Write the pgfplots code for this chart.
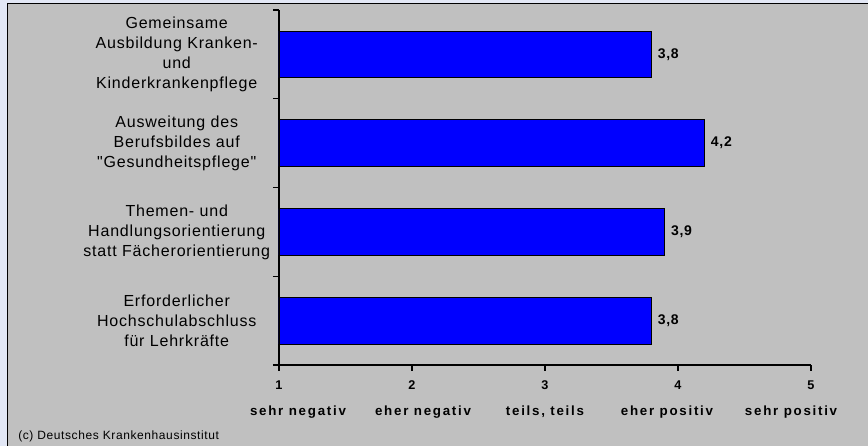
\documentclass[border=0pt]{standalone}
\usepackage{fontspec}
\setmainfont{Liberation Sans}[LetterSpace=5, Ligatures=TeXOff]
\newfontfamily\widebf{Liberation Sans}[LetterSpace=13]
\usepackage{pgfplots}
\pgfplotsset{compat=1.18}
\definecolor{panelgray}{RGB}{192,192,192}
\definecolor{outerbg}{RGB}{226,231,245}
\definecolor{barblue}{RGB}{0,0,255}
\pgfplotsset{backdrop/.style={scale only axis, axis lines=none, ticks=none,
  xmin=0, xmax=1, ymin=0, ymax=1, anchor=south west}}

\begin{document}
\hyphenpenalty=10000
\begin{tikzpicture}
\useasboundingbox (-209.25pt,-60.75pt) rectangle (441.75pt,273.75pt);
% page backdrop and grey panel
\begin{axis}[backdrop, at={(-209.25pt,-60.75pt)}, width=651pt, height=334.5pt,
  axis background/.style={fill=outerbg}]
\addplot[draw=none] coordinates {(0,0)};
\end{axis}
\begin{axis}[backdrop, at={(-203.25pt,-60.75pt)}, width=645pt, height=331.5pt,
  axis background/.style={fill=panelgray}]
\addplot[draw=none] coordinates {(0,0)};
\end{axis}
\draw[black, line width=0.75pt] (-203.25pt,-60.75pt) -- (-203.25pt,270.75pt) -- (441.75pt,270.75pt);
\begin{axis}[
  at={(0,0)}, anchor=south west,
  scale only axis, width=399pt, height=266.25pt,
  axis background/.style={fill=panelgray},
  xbar, bar width=35pt,
  xmin=1, xmax=5, ymin=0, ymax=4,
  axis lines=left, axis line style={-, line width=1pt},
  clip mode=individual,
  tick align=outside, major tick length=4.5pt,
  tick style={black, line width=1pt},
  xtick={1,2,3,4,5}, xticklabels={1,2,3,4,5},
  xticklabel style={font=\widebf\bfseries\fontsize{9.5}{11}\selectfont, anchor=base, inner sep=0pt, yshift=-14pt},
  ytick={0,1,2,3,4}, yticklabels={},
  extra y ticks={0.5,1.5,2.5,3.5},
  extra y tick labels={
    {Erforderlicher\\Hochschulabschluss\\für Lehrkräfte},
    {Themen- und\\Handlungsorientierung\\statt Fächerorientierung},
    {Ausweitung des\\Berufsbildes auf\\"Gesundheitspflege"},
    {Gemeinsame\\Ausbildung Kranken-\\und\\Kinderkrankenpflege}},
  extra y tick style={major tick length=0pt,
    yticklabel style={anchor=east, inner sep=0pt, xshift=-1.5pt, text width=150pt, align=center,
      font=\fontsize{12}{15}\selectfont}},
  point meta=x,
  nodes near coords={\pgfmathprintnumber[fixed,fixed zerofill,precision=1,use comma,assume math mode=true]{\pgfplotspointmeta}},
  nodes near coords style={anchor=west, inner sep=0pt, xshift=4.5pt, font=\bfseries\fontsize{10.5}{12}\selectfont},
]
\addplot[fill=barblue, draw=black, line width=0.6pt] coordinates {
  (3.8,3.5)
  (4.2,2.5)
  (3.9,1.5)
  (3.8,0.5)
};
\node[anchor=base, font=\widebf\bfseries\fontsize{10}{12}\selectfont] at (axis cs:1.143,0) [yshift=-38pt] {sehr negativ};
\node[anchor=base, font=\widebf\bfseries\fontsize{10}{12}\selectfont] at (axis cs:2.083,0) [yshift=-38pt] {eher negativ};
\node[anchor=base, font=\widebf\bfseries\fontsize{10}{12}\selectfont] at (axis cs:3.0,0) [yshift=-38pt] {teils, teils};
\node[anchor=base, font=\widebf\bfseries\fontsize{10}{12}\selectfont] at (axis cs:3.917,0) [yshift=-38pt] {eher positiv};
\node[anchor=base, font=\widebf\bfseries\fontsize{10}{12}\selectfont] at (axis cs:4.85,0) [yshift=-38pt] {sehr positiv};
\end{axis}
\node[anchor=base west, font=\fontsize{9}{10}\selectfont, inner sep=0pt] at (-195.75pt,-56.25pt) {(c) Deutsches Krankenhausinstitut};
\end{tikzpicture}
\end{document}
